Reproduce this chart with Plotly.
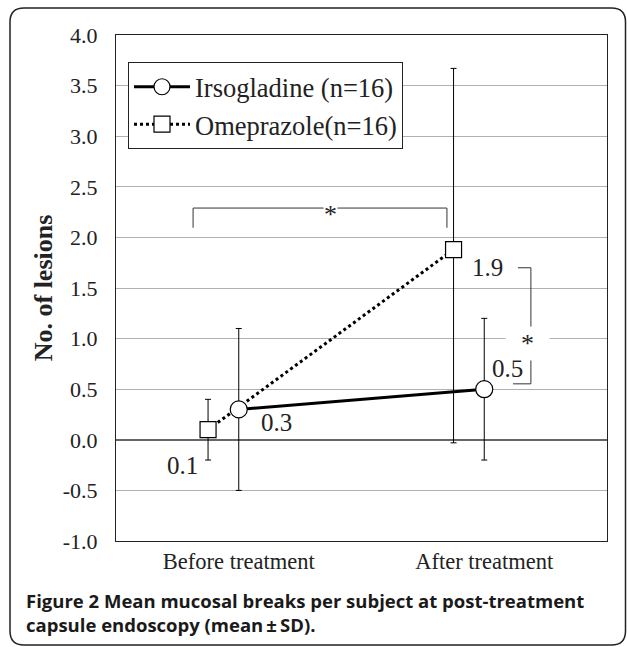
import plotly.graph_objects as go

categories = ["Before treatment", "After treatment"]
cat_pos = [1, 2]
irso_mean = [0.3, 0.5]
irso_sd_plus = [0.8, 0.7]
irso_sd_minus = [0.8, 0.7]
omep_mean = [0.1, 1.88]
omep_sd_plus = [0.3, 1.79]
omep_sd_minus = [0.3, 1.91]
yticks = [-1.0, -0.5, 0.0, 0.5, 1.0, 1.5, 2.0, 2.5, 3.0, 3.5, 4.0]
ytick_text = [f"{v:.1f}" for v in yticks]

OFFSET_OMEP = -0.125
W, H = 627, 647
ML, MT = 116, 35
PR, PB = 607, 541
MR, MB = W - PR, H - PB
PW, PH = PR - ML, PB - MT

def px_to_paper(px, py):
    return (px - ML) / PW, (PB - py) / PH

serif = "Liberation Serif"

fig = go.Figure()
omep_x = [c + OFFSET_OMEP for c in cat_pos]
fig.add_trace(go.Scatter(
    x=omep_x, y=omep_mean, mode="lines+markers", name="Omeprazole(n=16)",
    line=dict(color="black", width=3, dash="dot"),
    marker=dict(symbol="square", size=16, color="white", line=dict(color="black", width=1.2)),
    error_y=dict(type="data", array=omep_sd_plus, arrayminus=omep_sd_minus, symmetric=False,
                 color="black", thickness=1, width=3),
    legendrank=2,
))
fig.add_trace(go.Scatter(
    x=cat_pos, y=irso_mean, mode="lines+markers", name="Irsogladine (n=16)",
    line=dict(color="black", width=3),
    marker=dict(symbol="circle", size=17, color="white", line=dict(color="black", width=1.2)),
    error_y=dict(type="data", array=irso_sd_plus, arrayminus=irso_sd_minus, symmetric=False,
                 color="black", thickness=1, width=3),
    legendrank=1,
))

annotations = []
lab_font = dict(family=serif, size=25, color="#222")
annotations.append(dict(x=cat_pos[0], y=irso_mean[0], text=f"{irso_mean[0]:.1f}", showarrow=False,
                        xshift=38, yshift=-13, font=lab_font))
annotations.append(dict(x=cat_pos[1], y=irso_mean[1], text=f"{irso_mean[1]:.1f}", showarrow=False,
                        xshift=23, yshift=21, font=lab_font))
annotations.append(dict(x=omep_x[0], y=omep_mean[0], text=f"{omep_mean[0]:.1f}", showarrow=False,
                        xshift=-26, yshift=-36, font=lab_font))
annotations.append(dict(x=omep_x[1], y=omep_mean[1], text=f"{omep_mean[1]:.1f}", showarrow=False,
                        xshift=34, yshift=-18, font=lab_font))

star_font = dict(family=serif, size=26, color="#222")
shapes = []
bx0, bx1 = 0.814, 1.848
by_top, by_leg = 2.29, 2.095
shapes.append(dict(type="path", xref="x", yref="y",
                   path=f"M {bx0},{by_leg} L {bx0},{by_top} L {bx1},{by_top} L {bx1},{by_leg}",
                   line=dict(color="#333", width=1)))
annotations.append(dict(x=1.372, y=by_top, text="*", showarrow=False, font=star_font,
                        bgcolor="white", yshift=-6, borderpad=0))
rx0, rx1, rxb = 2.137, 2.19, 2.117
ry_top, ry_bot = 1.70, 0.553
shapes.append(dict(type="path", xref="x", yref="y",
                   path=f"M {rx0},{ry_top} L {rx1},{ry_top} L {rx1},{ry_bot} L {rxb},{ry_bot}",
                   line=dict(color="#333", width=1)))
annotations.append(dict(x=2.178, y=1.0, text="\u2002*\u2002", showarrow=False, font=star_font,
                        bgcolor="white", yshift=-5, borderpad=2))

r = 14
x0p, y0p, x1p, y1p = 10, 8, 625.5, 645
def P(px, py):
    x, y = px_to_paper(px, py)
    return f"{x:.5f},{y:.5f}"
path = (f"M {P(x0p + r, y0p)} L {P(x1p - r, y0p)} Q {P(x1p, y0p)} {P(x1p, y0p + r)} "
        f"L {P(x1p, y1p - r)} Q {P(x1p, y1p)} {P(x1p - r, y1p)} "
        f"L {P(x0p + r, y1p)} Q {P(x0p, y1p)} {P(x0p, y1p - r)} "
        f"L {P(x0p, y0p + r)} Q {P(x0p, y0p)} {P(x0p + r, y0p)} Z")
shapes.append(dict(type="path", xref="paper", yref="paper", path=path,
                   line=dict(color="#222", width=1.5), layer="below"))

cx, cy = px_to_paper(24, 586)
annotations.append(dict(xref="paper", yref="paper", x=cx, y=cy, xanchor="left", yanchor="top",
                        align="left", showarrow=False,
                        text="<b>Figure 2</b> <b>Mean mucosal breaks per subject at post-treatment<br>capsule endoscopy (mean\u2009\u00b1\u2009SD).</b>",
                        font=dict(family="Open Sans", size=18.5, color="#1a1a1a")))

lx, ly = px_to_paper(128, 62)
fig.update_layout(
    width=W, height=H,
    margin=dict(l=ML, r=MR, t=MT, b=MB),
    paper_bgcolor="white", plot_bgcolor="white",
    showlegend=True,
    legend=dict(x=lx, y=ly, xanchor="left", yanchor="top", bgcolor="white",
                bordercolor="#222", borderwidth=1, font=dict(family=serif, size=26.5, color="#222"),
                tracegroupgap=0, itemwidth=56),
    annotations=annotations, shapes=shapes,
    xaxis=dict(range=[0.5, 2.5], tickvals=cat_pos, ticktext=categories, showgrid=False,
               showline=True, linecolor="#222", linewidth=1.2, mirror=True, ticks="",
               tickfont=dict(family=serif, size=22.5, color="#222"), zeroline=False),
    yaxis=dict(range=[-1.0, 4.0], tickvals=yticks, ticktext=ytick_text, showgrid=True,
               gridcolor="#b0b0b0", gridwidth=1, zeroline=True, zerolinecolor="#666",
               zerolinewidth=1.5, showline=True, linecolor="#222", linewidth=1.2, mirror=True,
               ticks="", ticklabelstandoff=13,
               tickfont=dict(family=serif, size=22, color="#222"),
               title=dict(text="<b>No. of lesions</b>", font=dict(family=serif, size=26, color="#222"),
                          standoff=2)),
)

fig.write_html("out.html", config={"displayModeBar": False},
               post_script="document.body.style.margin='0';document.body.style.overflow='hidden';")
